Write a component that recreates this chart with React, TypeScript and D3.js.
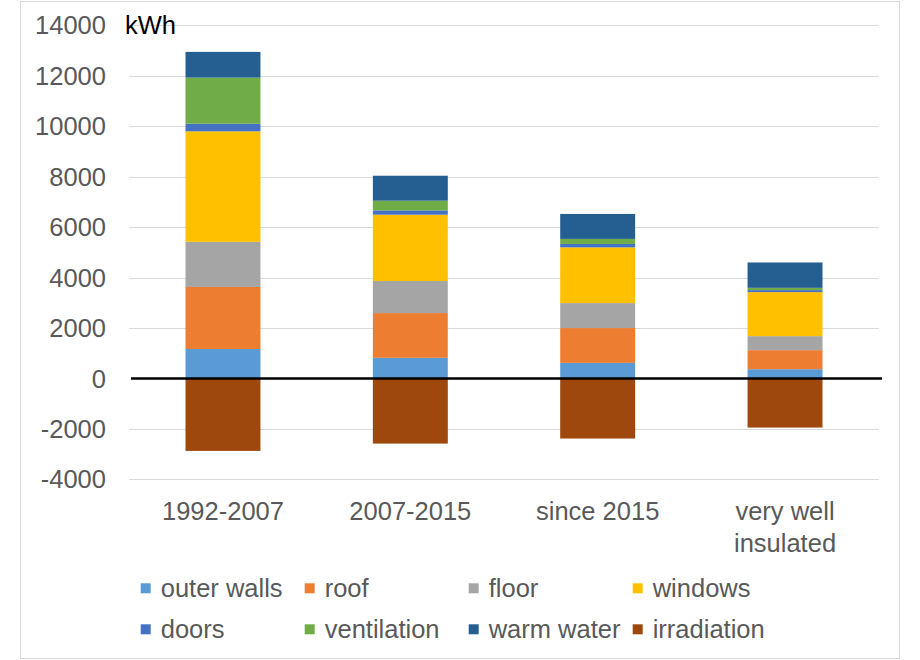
import { useEffect, useRef } from 'react';
import * as d3 from 'd3';

// chart data
const categories = ['1992-2007', '2007-2015', 'since 2015', 'very well insulated'];
const seriesNames = ['outer walls', 'roof', 'floor', 'windows', 'doors', 'ventilation', 'warm water', 'irradiation'];
const seriesColors = ['#5B9BD5', '#ED7D31', '#A5A5A5', '#FFC000', '#4472C4', '#70AD47', '#255E91', '#9E480E'];

const outerWalls = [1170, 820, 620, 370];
const roof = [2460, 1775, 1380, 755];
const floor = [1790, 1270, 990, 555];
const windows = [4380, 2630, 2210, 1745];
const doors = [300, 170, 135, 80];
const ventilation = [1830, 385, 200, 90];
const warmWater = [1020, 990, 990, 1005];
const irradiation = [-2870, -2580, -2380, -1945];

const yTicks = [-4000, -2000, 0, 2000, 4000, 6000, 8000, 10000, 12000, 14000];

const FONT = '"Liberation Sans", Arial, sans-serif';
const TEXT_COLOR = '#595959';

export default function App() {
    const ref = useRef<SVGSVGElement | null>(null);

    useEffect(() => {
        const svg = d3.select(ref.current);
        svg.selectAll('*').remove();

        const width = 920;
        const height = 660;

        // build rows for d3.stack
        const allSeries = [outerWalls, roof, floor, windows, doors, ventilation, warmWater, irradiation];
        const rows = categories.map((c, i) => {
            const row: any = { category: c };
            seriesNames.forEach((name, s) => {
                row[name] = allSeries[s][i];
            });
            return row;
        });

        const stacked = d3.stack<any>()
            .keys(seriesNames)
            .offset(d3.stackOffsetDiverging)(rows);

        // scales
        const x = d3.scaleBand<string>()
            .domain(categories)
            .range([129.3, 878.7])
            .paddingInner(0.6)
            .paddingOuter(0.3);

        const y = d3.scaleLinear()
            .domain([-4000, 14000])
            .range([479.4, 25.4]);

        // chart border
        svg.append('rect')
            .attr('x', 20.5)
            .attr('y', 1.5)
            .attr('width', 879)
            .attr('height', 657)
            .attr('fill', '#fff')
            .attr('stroke', '#d9d9d9')
            .attr('stroke-width', 1);

        // gridlines
        svg.append('g')
            .selectAll('line')
            .data(yTicks.filter(t => t !== 0))
            .enter()
            .append('line')
            .attr('x1', 129.3)
            .attr('x2', 878.7)
            .attr('y1', d => Math.round(y(d)) + 0.5)
            .attr('y2', d => Math.round(y(d)) + 0.5)
            .attr('stroke', '#d9d9d9')
            .attr('stroke-width', 1);

        // y tick labels
        svg.append('g')
            .selectAll('text')
            .data(yTicks)
            .enter()
            .append('text')
            .attr('x', 106)
            .attr('y', d => y(d) + 9)
            .attr('text-anchor', 'end')
            .attr('font-family', FONT)
            .attr('font-size', 25.5)
            .attr('fill', TEXT_COLOR)
            .text(d => String(d));

        // unit label
        svg.append('text')
            .attr('x', 125)
            .attr('y', y(14000) + 9)
            .attr('font-family', FONT)
            .attr('font-size', 25.5)
            .attr('fill', '#000')
            .text('kWh');

        // bars
        svg.append('g')
            .selectAll('g')
            .data(stacked)
            .enter()
            .append('g')
            .attr('fill', (_d, i) => seriesColors[i])
            .selectAll('rect')
            .data(d => d)
            .enter()
            .append('rect')
            .attr('x', d => x(d.data.category) as number)
            .attr('width', x.bandwidth())
            .attr('y', d => y(Math.max(d[0], d[1])))
            .attr('height', d => Math.abs(y(d[0]) - y(d[1])));

        // zero line
        svg.append('line')
            .attr('x1', 131)
            .attr('x2', 882)
            .attr('y1', y(0))
            .attr('y2', y(0))
            .attr('stroke', '#000')
            .attr('stroke-width', 2.5);

        // category labels, long ones wrapped on two lines
        const labels = svg.append('g')
            .selectAll('text')
            .data(categories)
            .enter()
            .append('text')
            .attr('text-anchor', 'middle')
            .attr('font-family', FONT)
            .attr('font-size', 25.5)
            .attr('fill', TEXT_COLOR)
            .attr('y', 520);

        labels.each(function(d) {
            const t = d3.select(this);
            const cx = (x(d) as number) + x.bandwidth() / 2;
            let lines = [d];
            if (d.length > 12) {
                const cut = d.lastIndexOf(' ');
                lines = [d.slice(0, cut), d.slice(cut + 1)];
            }
            lines.forEach((line, i) => {
                t.append('tspan')
                    .attr('x', cx)
                    .attr('dy', i === 0 ? 0 : 31.7)
                    .text(line);
            });
        });

        // legend, 4 columns x 2 rows
        const legend = svg.append('g')
            .selectAll('g')
            .data(seriesNames)
            .enter()
            .append('g')
            .attr('transform', (_d, i) => 'translate(' + (140.7 + (i % 4) * 164) + ',' + (583.3 + Math.floor(i / 4) * 41) + ')');

        legend.append('rect')
            .attr('width', 10)
            .attr('height', 10)
            .attr('fill', (_d, i) => seriesColors[i]);

        legend.append('text')
            .attr('x', 20)
            .attr('y', 13.3)
            .attr('font-family', FONT)
            .attr('font-size', 25.5)
            .attr('fill', TEXT_COLOR)
            .text(d => d);

        svg.attr('width', width).attr('height', height);
    }, []);

    return (
        <svg ref={ref} width={920} height={660} style={{ position: 'absolute', left: 0, top: 0 }} />
    );
}
